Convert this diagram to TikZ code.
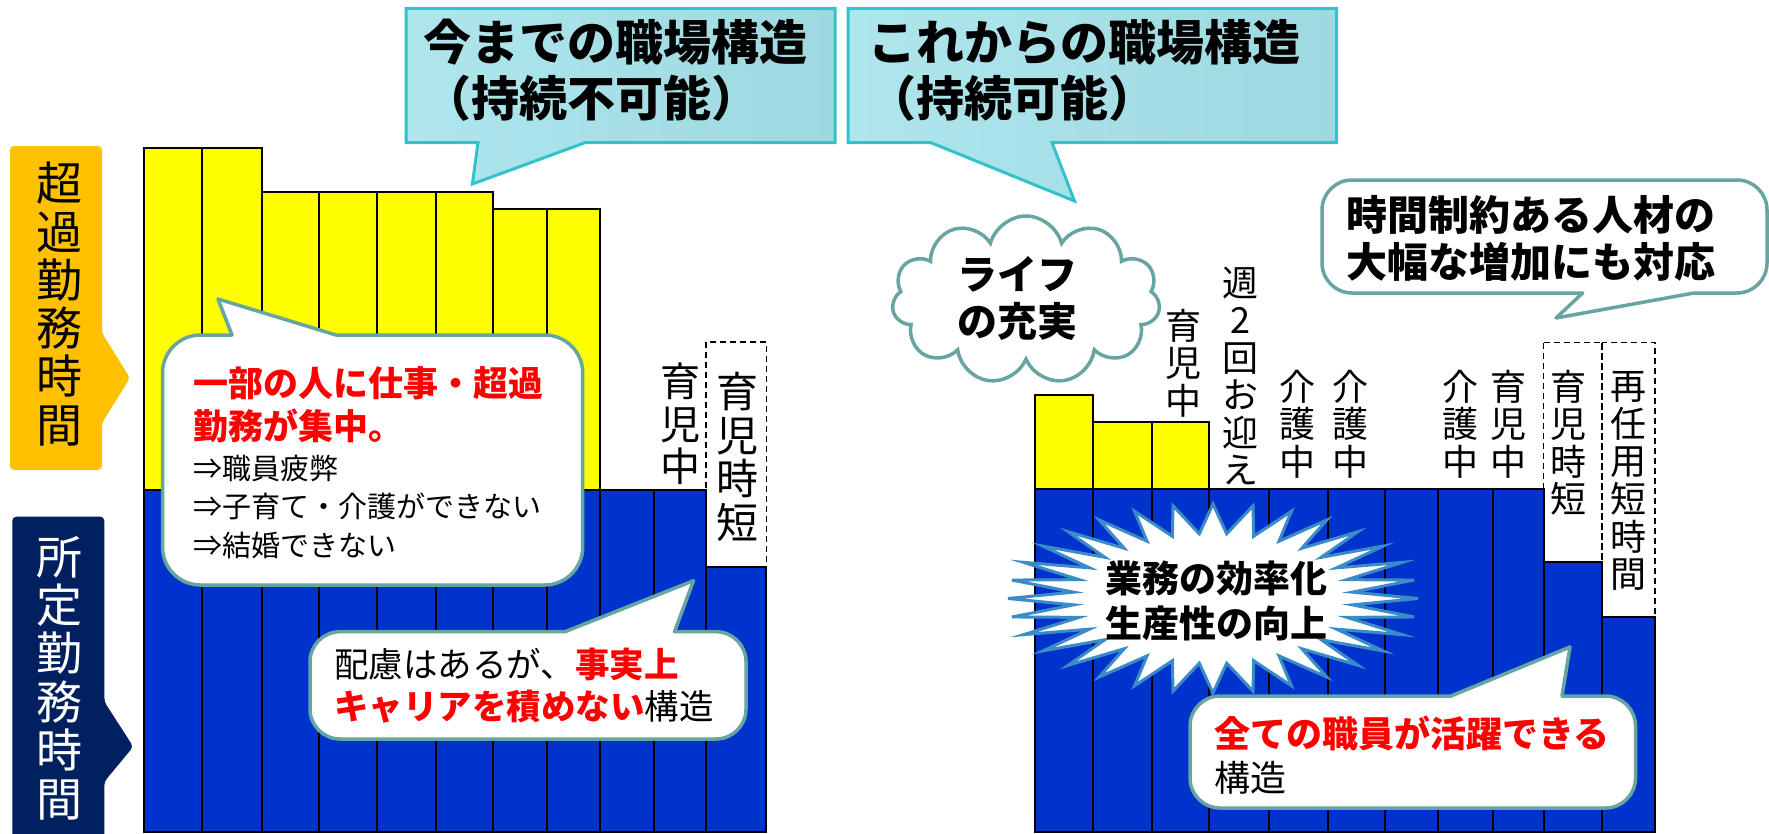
\documentclass[tikz,border=0pt]{standalone}
\usepackage{fontspec}
\setmainfont{Noto Sans CJK JP}
\usetikzlibrary{shapes.symbols}
\definecolor{barblue}{HTML}{0033CC}
\definecolor{baryellow}{HTML}{FFFF00}
\definecolor{lblorange}{HTML}{FFC000}
\definecolor{lblnavy}{HTML}{002060}
\definecolor{callteal}{HTML}{66A5A1}
\definecolor{titleedge}{HTML}{30C3CC}
\definecolor{titlefillA}{HTML}{AEE6EC}
\definecolor{titlefillB}{HTML}{9ED9E0}
\definecolor{burstblue}{HTML}{3A8CC8}
\definecolor{txtred}{HTML}{FF0000}
\tikzset{
  chartbar/.style={draw=black, line width=2pt},
  ybar/.style={chartbar, fill=baryellow},
  bbar/.style={chartbar, fill=barblue},
  dashbox/.style={draw=black, dash pattern=on 6pt off 4pt, line width=1.8pt},
  mycallout/.style={draw=callteal, line width=3.5pt, fill=white, line join=round},
  titlecall/.style={draw=titleedge, line width=3pt, left color=titlefillA, right color=titlefillB, line join=miter},
  burst/.style={draw=burstblue, line width=3pt, fill=white, line join=miter},
  vlab/.style={align=center, inner sep=0pt, text=black},
  txt/.style={inner sep=0pt, text=black},
}
\begin{document}
\begin{tikzpicture}[x=1pt,y=-1pt]
\useasboundingbox (0,0) rectangle (1769,833);
\fill[white] (0,0) rectangle (1769,833);

% ---------- side labels ----------
\fill[lblorange, rounded corners=4pt] (10,146) -- (102,146) -- (102,333) -- (130,378) -- (102,423) -- (102,470) -- (10,470) -- cycle;
\node[vlab, font=\fontsize{46}{48.3}\selectfont] (lblA) at (59,304) {超\\過\\勤\\務\\時\\間};
\fill[lblnavy, rounded corners=4pt] (12.3,516.7) -- (104.3,516.7) -- (104.3,701.7) -- (133.3,746.7) -- (104.3,781.7) -- (104.3,845) -- (12.3,845) -- cycle;
\node[vlab, text=white, font=\fontsize{46}{48.4}\selectfont] (lblB) at (59,678) {所\\定\\勤\\務\\時\\間};

% ---------- left chart ----------
\draw[ybar] (143.5,147.7) rectangle (202,490);
\draw[ybar] (202,147.7) rectangle (262.3,490);
\draw[ybar] (262.3,192.3) rectangle (318.6,490);
\draw[ybar] (318.6,192.3) rectangle (377.1,490);
\draw[ybar] (377.1,192.3) rectangle (435.7,490);
\draw[ybar] (435.7,192.3) rectangle (493.1,490);
\draw[ybar] (493.1,209) rectangle (546.5,490);
\draw[ybar] (546.5,209) rectangle (600.4,490);
\foreach \a/\b in {143.5/202,202/262.3,262.3/318.6,318.6/377.1,377.1/435.7,435.7/493.1,493.1/546.5,546.5/600.4,600.4/654.4,654.4/706}
  \draw[bbar] (\a,490) rectangle (\b,831.5);
\draw[bbar] (706,566.7) rectangle (766.4,831.5);
\draw[dashbox] (706,342.3) rectangle (766.4,566.7);
\node[vlab, font=\fontsize{40}{42.5}\selectfont] (lc1) at (680,424) {育\\児\\中};
\node[vlab, font=\fontsize{42}{43.7}\selectfont] (lc2) at (737,457) {育\\児\\時\\短};

% ---------- right chart ----------
\draw[ybar] (1034.6,395) rectangle (1093.3,489.3);
\draw[ybar] (1093.3,421.7) rectangle (1151.9,489.3);
\draw[ybar] (1151.9,421.7) rectangle (1209.3,489.3);
\foreach \a/\b in {1034.6/1093.3,1093.3/1151.9,1151.9/1209.3,1209.3/1269.1,1269.1/1327.7,1327.7/1384.6,1384.6/1437.9,1437.9/1493,1493/1543.5}
  \draw[bbar] (\a,489.3) rectangle (\b,831.5);
\draw[bbar] (1543.5,562) rectangle (1602,831.5);
\draw[bbar] (1602,617) rectangle (1654.8,831.5);
\draw[dashbox] (1543.5,342.5) rectangle (1602,562);
\draw[dashbox] (1602,342.5) rectangle (1654.8,617);
\node[vlab, font=\fontsize{36}{37.5}\selectfont] (rc1) at (1183,363) {育\\児\\中};
\node[vlab, font=\fontsize{36}{37.5}\selectfont] (rc2) at (1240,376) {週\\2\\回\\お\\迎\\え};
\node[vlab, font=\fontsize{36}{37.5}\selectfont] (rc3) at (1297,424) {介\\護\\中};
\node[vlab, font=\fontsize{36}{37.5}\selectfont] (rc4) at (1350,424) {介\\護\\中};
\node[vlab, font=\fontsize{36}{37.5}\selectfont] (rc5) at (1460,424) {介\\護\\中};
\node[vlab, font=\fontsize{36}{37.5}\selectfont] (rc6) at (1508,424) {育\\児\\中};
\node[vlab, font=\fontsize{36}{37.5}\selectfont] (rc7) at (1568,442.5) {育\\児\\時\\短};
\node[vlab, font=\fontsize{36}{37.7}\selectfont] (rc8) at (1628,481) {再\\任\\用\\短\\時\\間};

% ---------- title callouts ----------
\draw[titlecall] (406,8.3) -- (835,8.3) -- (835,142.7) -- (585,142.7) -- (472.4,184) -- (478,142.7) -- (406,142.7) -- cycle;
\node[txt, anchor=west, align=left, font=\fontsize{48}{56}\selectfont\bfseries] (t1) at (423,70) {今までの職場構造\\（持続不可能）};
\draw[titlecall] (848,8.3) -- (1336.5,8.3) -- (1336.5,142.7) -- (1052,142.7) -- (1074.5,201) -- (931,142.7) -- (848,142.7) -- cycle;
\node[txt, anchor=west, align=left, font=\fontsize{48}{56}\selectfont\bfseries] (t2) at (868,70) {これからの職場構造\\（持続可能）};

% ---------- callout A ----------
\draw[mycallout] (200.5,335) -- (232,335) -- (218,299) -- (336,335) -- (544.7,335) arc(270:360:38) -- (582.7,547) arc(0:90:38) -- (200.5,585) arc(90:180:38) -- (162.5,373) arc(180:270:38) -- cycle;
\node[txt, anchor=west, align=left, text=txtred, font=\fontsize{35}{43}\selectfont\bfseries] (ca1) at (193,404.5) {一部の人に仕事・超過\\勤務が集中。};
\node[txt, anchor=west, align=left, font=\fontsize{29}{38.5}\selectfont] (ca2) at (193,506.5) {⇒職員疲弊\\⇒子育て・介護ができない\\⇒結婚できない};

% ---------- callout B ----------
\draw[mycallout] (340,631.7) -- (565,631.7) -- (693.5,580.7) -- (674.5,631.7) -- (716,631.7) arc(270:360:30) -- (746,709) arc(0:90:30) -- (340,739) arc(90:180:30) -- (310,661.7) arc(180:270:30) -- cycle;
\node[txt, anchor=west, align=left, font=\fontsize{34.5}{42}\selectfont] (cb) at (334,686) {配慮はあるが、{\color{txtred}\bfseries 事実上}\\{\color{txtred}\bfseries キャリアを積めない}構造};

% ---------- callout C ----------
\draw[mycallout] (1352,180) -- (1737,180) arc(270:360:30) -- (1767,263) arc(0:90:30) -- (1694,293) -- (1556,318) -- (1582.7,293) -- (1352,293) arc(90:180:30) -- (1322,210) arc(180:270:30) -- cycle;
\node[txt, anchor=west, align=left, font=\fontsize{41}{47}\selectfont\bfseries] (cc) at (1346,238.5) {時間制約ある人材の\\大幅な増加にも対応};

% ---------- callout D ----------
\draw[mycallout] (1220,696) -- (1451,696) -- (1570,647) -- (1562,696) -- (1605.5,696) arc(270:360:30) -- (1635.5,778) arc(0:90:30) -- (1220,808) arc(90:180:30) -- (1190,726) arc(180:270:30) -- cycle;
\node[txt, anchor=west, align=left, font=\fontsize{36}{44}\selectfont] (cd) at (1214,755) {{\color{txtred}\bfseries 全ての職員が活躍できる}\\構造};

% ---------- cloud ----------
\node[cloud, cloud puffs=11, aspect=1.6, draw=callteal, line width=3.5pt, fill=white, minimum width=268pt, minimum height=168pt, inner sep=0pt] (life) at (1026,300) {};
\node[txt, align=center, font=\fontsize{40}{47}\selectfont\bfseries] (lifetxt) at (1017,298) {ライフ\\の充実};

% ---------- starburst ----------
\draw[burst] (1418,598.5) \foreach \i in {1,...,63} { -- ({1213+ifthenelse(isodd(\i),140,205)*cos(\i*5.625)},{598.5+ifthenelse(isodd(\i),65,94.5)*sin(\i*5.625)}) } -- cycle;
\node[txt, align=center, font=\fontsize{37}{45}\selectfont\bfseries] (bursttxt) at (1216,600.5) {業務の効率化\\生産性の向上};
\end{tikzpicture}
\end{document}
